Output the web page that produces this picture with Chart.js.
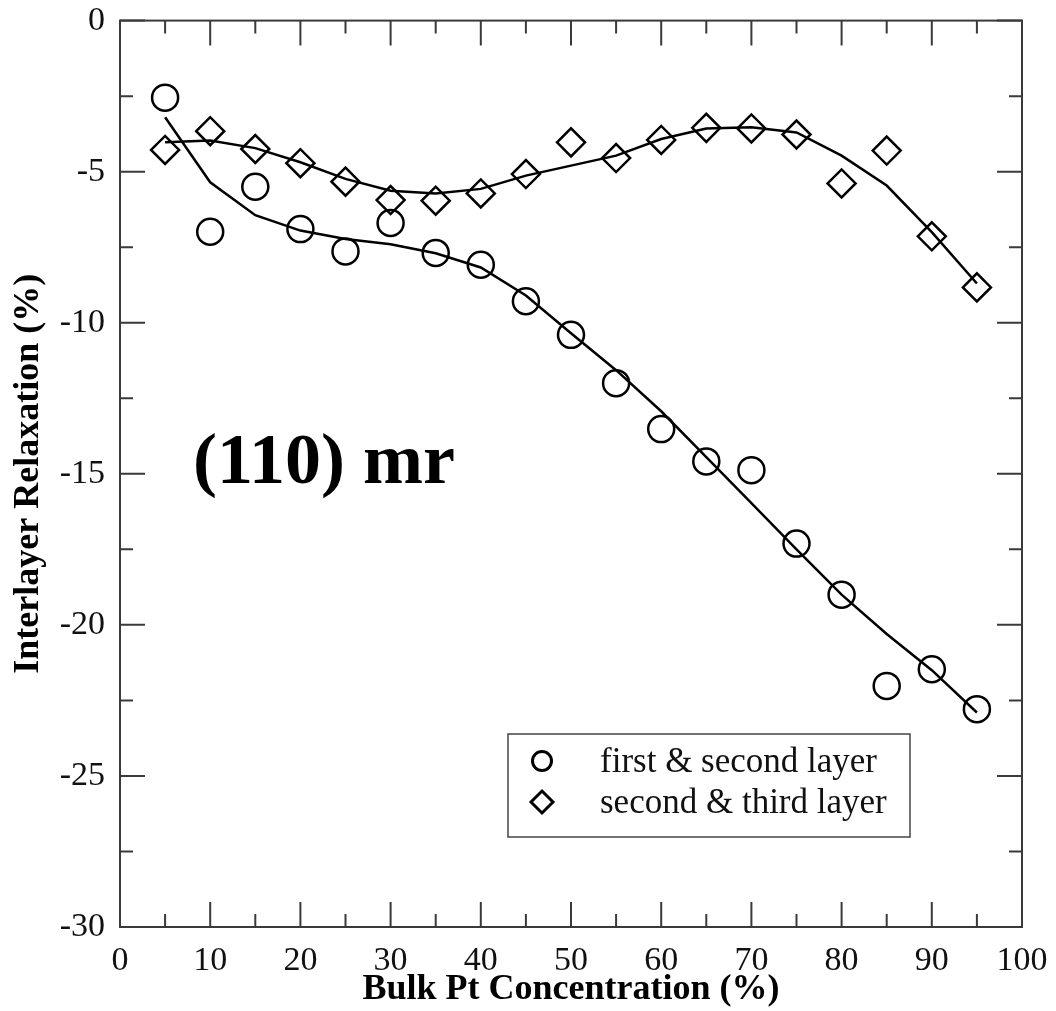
<!DOCTYPE html>
<html>
<head>
<meta charset="utf-8">
<script src="https://cdn.jsdelivr.net/npm/chart.js@4.4.1/dist/chart.umd.min.js"></script>
<style>
	body { margin: 0; background: #fff; }
	#wrap { width: 1056px; height: 1011px; position: relative; }
</style>
</head>
<body>
<div id="wrap"><canvas id="grafico" width="1056" height="1011"></canvas></div>
<script>
concentracao = [5, 10, 15, 20, 25, 30, 35, 40, 45, 50, 55, 60, 65, 70, 75, 80, 85, 90, 95]
camada12 = [-2.55, -6.99, -5.5, -6.9, -7.64, -6.7, -7.69, -8.08, -9.29, -10.4, -12.0, -13.52, -14.59, -14.88, -17.31, -19.0, -22.02, -21.47, -22.79]
camada23 = [-4.28, -3.66, -4.25, -4.72, -5.33, -5.94, -5.96, -5.72, -5.08, -4.03, -4.55, -3.95, -3.55, -3.57, -3.77, -5.39, -4.3, -7.14, -8.83]
ajuste12 = [-3.2, -5.35, -6.44, -6.95, -7.23, -7.4, -7.7, -8.17, -9.1, -10.35, -11.57, -12.93, -14.45, -15.97, -17.5, -19.0, -20.3, -21.5, -22.9]
ajuste23 = [-4.03, -3.97, -4.22, -4.69, -5.24, -5.63, -5.72, -5.57, -5.13, -4.8, -4.47, -3.92, -3.57, -3.53, -3.7, -4.47, -5.46, -7.0, -8.7]
legendas = ['first & second layer', 'second & third layer']
xTicks = [0, 10, 20, 30, 40, 50, 60, 70, 80, 90, 100]
yTicks = [0, -5, -10, -15, -20, -25, -30]
rotulo = '(110) mr'

fonte = '"Liberation Serif", "Times New Roman", serif'

function pontos(xs, ys) {
	arr = []
	for (i = 0; i < xs.length; i++) arr.push({ x: xs[i], y: ys[i] })
	return arr
}

// moldura, ticks para dentro, legenda e rotulo
const extras = {
	id: 'extras',
	afterDraw(chart) {
		const ctx = chart.ctx
		const a = chart.chartArea
		const sx = chart.scales.x
		const sy = chart.scales.y
		ctx.save()
		ctx.strokeStyle = '#3a3a3a'
		ctx.lineWidth = 2
		ctx.strokeRect(a.left, a.top, a.right - a.left, a.bottom - a.top)
		ctx.beginPath()
		for (v = 0; v <= 100; v += 5) {
			len = v % 10 == 0 ? 25 : 13
			px = sx.getPixelForValue(v)
			ctx.moveTo(px, a.bottom); ctx.lineTo(px, a.bottom - len)
			ctx.moveTo(px, a.top); ctx.lineTo(px, a.top + len)
		}
		for (v = 0; v >= -30; v -= 2.5) {
			len = v % 5 == 0 ? 25 : 13
			py = sy.getPixelForValue(v)
			ctx.moveTo(a.left, py); ctx.lineTo(a.left + len, py)
			ctx.moveTo(a.right, py); ctx.lineTo(a.right - len, py)
		}
		ctx.stroke()

		// legenda
		ctx.lineWidth = 1.5
		ctx.strokeStyle = '#444'
		ctx.strokeRect(508, 734, 402, 103)
		ctx.strokeStyle = '#000'
		ctx.lineWidth = 3
		ctx.beginPath()
		ctx.arc(542, 761, 9.5, 0, Math.PI * 2)
		ctx.stroke()
		ctx.beginPath()
		ctx.moveTo(542, 791); ctx.lineTo(553, 802); ctx.lineTo(542, 813); ctx.lineTo(531, 802); ctx.closePath()
		ctx.stroke()
		ctx.fillStyle = '#111'
		ctx.font = '35px ' + fonte
		ctx.textBaseline = 'alphabetic'
		ctx.fillText(legendas[0], 600, 772)
		ctx.fillText(legendas[1], 600, 813)

		ctx.font = 'bold 72px ' + fonte
		ctx.fillStyle = '#000'
		ctx.fillText(rotulo, 193, 483)
		ctx.restore()
	}
}

function makeChart() {
	var ctx = document.getElementById('grafico').getContext('2d')
	new Chart(ctx, {
		type: 'scatter',
		data: {
			datasets: [
				{
					label: 'fit 1',
					data: pontos(concentracao, ajuste12),
					showLine: true,
					borderColor: '#000',
					borderWidth: 2.5,
					pointRadius: 0,
					tension: 0,
				},
				{
					label: 'fit 2',
					data: pontos(concentracao, ajuste23),
					showLine: true,
					borderColor: '#000',
					borderWidth: 2.5,
					pointRadius: 0,
					tension: 0,
				},
				{
					label: legendas[0],
					data: pontos(concentracao, camada12),
					pointStyle: 'circle',
					pointRadius: 13,
					borderColor: '#000',
					borderWidth: 2.5,
					backgroundColor: 'rgba(0,0,0,0)',
				},
				{
					label: legendas[1],
					data: pontos(concentracao, camada23),
					pointStyle: 'rectRot',
					pointRadius: 14,
					borderColor: '#000',
					borderWidth: 2.5,
					backgroundColor: 'rgba(0,0,0,0)',
				},
			],
		},
		options: {
			responsive: false,
			animation: false,
			layout: {
				padding: { top: 20, right: 34, left: 0, bottom: 0 },
			},
			plugins: {
				legend: { display: false },
				tooltip: { enabled: false },
			},
			scales: {
				x: {
					type: 'linear',
					min: 0,
					max: 100,
					afterFit: function (scale) { scale.height = 84 },
					afterBuildTicks: function (scale) { scale.ticks = xTicks.map(v => ({ value: v })) },
					grid: { display: false },
					border: { display: false },
					ticks: {
						padding: 6,
						color: '#111',
						maxRotation: 0,
						font: { family: fonte, size: 34 },
					},
					title: {
						display: true,
						text: 'Bulk Pt Concentration (%)',
						color: '#000',
						padding: { top: 0, bottom: 0 },
						font: { family: fonte, size: 36, weight: 'bold' },
					},
				},
				y: {
					type: 'linear',
					min: -30,
					max: 0,
					afterFit: function (scale) { scale.width = 120 },
					afterBuildTicks: function (scale) { scale.ticks = yTicks.map(v => ({ value: v })) },
					grid: { display: false },
					border: { display: false },
					ticks: {
						padding: 7,
						color: '#111',
						font: { family: fonte, size: 34, lineHeight: 0.8 },
					},
					title: {
						display: true,
						text: 'Interlayer Relaxation (%)',
						color: '#000',
						padding: { top: 7, bottom: 7 },
						font: { family: fonte, size: 36, weight: 'bold' },
					},
				},
			},
		},
		plugins: [extras],
	})
}

makeChart()
</script>
</body>
</html>
